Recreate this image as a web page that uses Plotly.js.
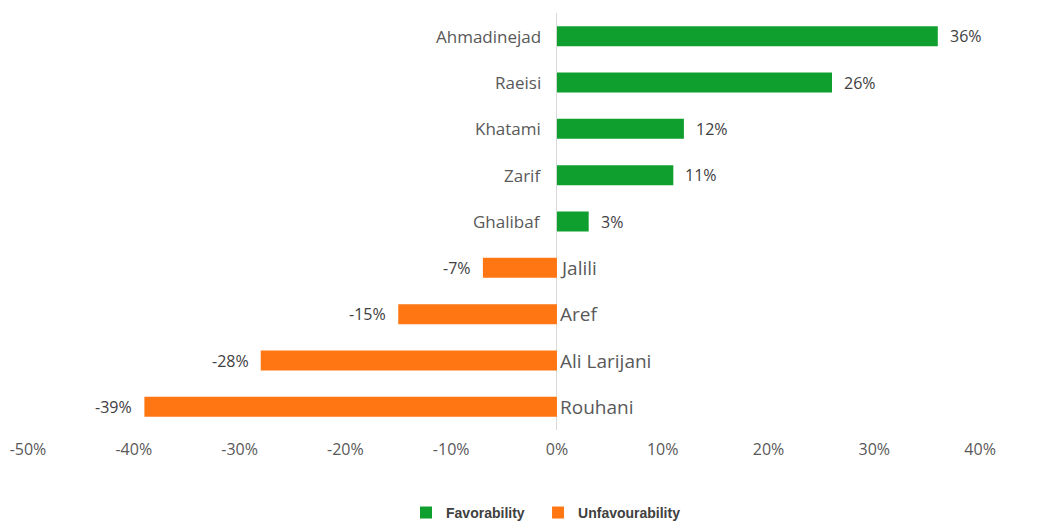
<!DOCTYPE html>
<html>
<head>
<meta charset="utf-8">
<script src="https://cdn.plot.ly/plotly-3.0.1.min.js"></script>
<style>html,body{margin:0;padding:0;background:#fff;}#chart{width:1047px;height:525px;}</style>
</head>
<body>
<div id="chart"></div>
<script>
const favNames = ["Ahmadinejad", "Raeisi", "Khatami", "Zarif", "Ghalibaf"];
const favValues = [36, 26, 12, 11, 3];
const unfavNames = ["Jalili", "Aref", "Ali Larijani", "Rouhani"];
const unfavValues = [-7, -15, -28, -39];
const allNames = favNames.concat(unfavNames);
const tickVals = [-50, -40, -30, -20, -10, 0, 10, 20, 30, 40];
const tickText = ["-50%", "-40%", "-30%", "-20%", "-10%", "0%", "10%", "20%", "30%", "40%"];

const FONT = "'Open Sans', Lato, 'Liberation Sans', sans-serif";
const labelFont = {family: FONT, size: 17, color: "#595959"};
const valueFont = {family: FONT, size: 16, color: "#404040"};
const legendFont = {family: "Arial, 'Liberation Sans', sans-serif", size: 14, color: "#404040", weight: "bold"};

const traces = [
  {
    type: "bar", orientation: "h", name: "Favorability",
    x: favValues, y: favNames,
    marker: {color: "#0e9f2f"},
    width: 0.43, legend: "legend"
  },
  {
    type: "bar", orientation: "h", name: "Unfavourability",
    x: unfavValues, y: unfavNames,
    marker: {color: "#ff7613"},
    width: 0.43, legend: "legend2"
  }
];

const annotations = [];
favNames.forEach((n, i) => {
  annotations.push({
    x: 0, y: n, xref: "x", yref: "y", text: n, showarrow: false,
    xanchor: "right", xshift: -14, font: labelFont
  });
  annotations.push({
    x: favValues[i], y: n, xref: "x", yref: "y", text: favValues[i] + "%", showarrow: false,
    xanchor: "left", xshift: 10, font: valueFont
  });
});
unfavNames.forEach((n, i) => {
  annotations.push({
    x: 0, y: n, xref: "x", yref: "y", text: n, showarrow: false,
    xanchor: "left", xshift: 1, font: Object.assign({}, labelFont, {size: 19})
  });
  annotations.push({
    x: unfavValues[i], y: n, xref: "x", yref: "y", text: unfavValues[i] + "%", showarrow: false,
    xanchor: "right", xshift: -10, font: valueFont
  });
});

const layout = {
  width: 1047, height: 525,
  margin: {l: 28, r: 14, t: 13, b: 95},
  paper_bgcolor: "#fff", plot_bgcolor: "#fff",
  barmode: "overlay",
  showlegend: true,
  legend: {
    orientation: "h", xref: "container", x: 0.3878, xanchor: "left",
    yref: "container", y: 0.023, yanchor: "middle",
    font: legendFont, itemwidth: 30
  },
  legend2: {
    orientation: "h", xref: "container", x: 0.5139, xanchor: "left",
    yref: "container", y: 0.023, yanchor: "middle",
    font: legendFont, itemwidth: 30
  },
  xaxis: {
    range: [-50, 45], tickvals: tickVals, ticktext: tickText,
    showgrid: false, zeroline: true, zerolinecolor: "#d9d9d9", zerolinewidth: 1,
    showline: false, ticks: "",
    tickfont: {family: FONT, size: 16, color: "#595959"},
    ticklabelstandoff: 8
  },
  yaxis: {
    categoryorder: "array", categoryarray: allNames, autorange: "reversed",
    showticklabels: false, showgrid: false, zeroline: false, showline: false, ticks: ""
  },
  annotations: annotations
};

Plotly.newPlot("chart", traces, layout, {displayModeBar: false, staticPlot: true});
</script>
</body>
</html>
